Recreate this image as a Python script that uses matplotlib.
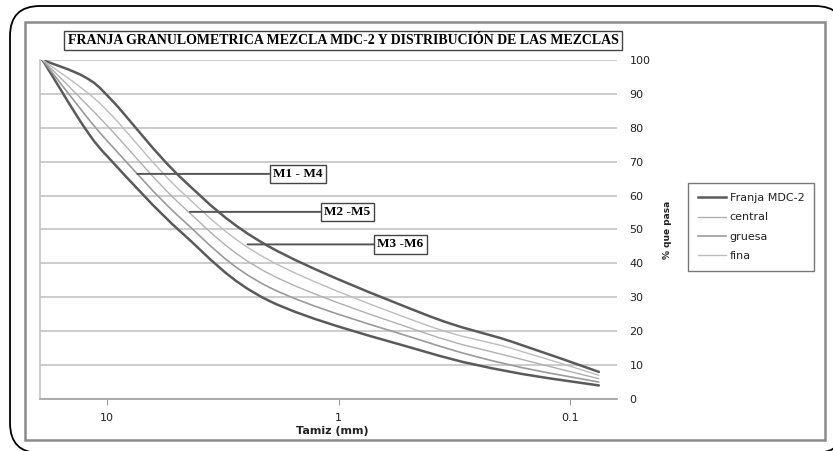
import matplotlib
matplotlib.use("Agg")
import numpy as np
import matplotlib.pyplot as plt
from matplotlib.patches import FancyBboxPatch, Rectangle, PathPatch
from matplotlib.path import Path
from matplotlib.lines import Line2D
from matplotlib.ticker import FixedLocator, FixedFormatter, NullLocator

# tamices (mm) y % que pasa
tamiz = [19, 12.5, 9.5, 4.75, 2.0, 0.425, 0.18, 0.075]
franja_sup = [100, 95, 88, 65, 45, 25, 17, 8]
franja_inf = [100, 80, 70, 49, 29, 14, 8, 4]
central = [100, 87.5, 79, 57, 37, 19.5, 12.5, 6]
fina = [100, 91, 83.5, 61, 41, 22, 15, 7]
gruesa = [100, 84, 74.5, 53, 33, 17, 10, 5]

x_ticks = [10, 1, 0.1]
x_ticklabels = ["10", "1", "0.1"]
y_ticks = [0, 10, 20, 30, 40, 50, 60, 70, 80, 90, 100]


def curva_suave(xs, ys):
    # linea suavizada como en Excel (bezier tipo catmull-rom, en x logaritmico)
    p = np.column_stack([np.log10(xs), ys])
    n = len(p)
    verts = [p[0]]
    codes = [Path.MOVETO]
    for i in range(n - 1):
        a = p[i - 1] if i > 0 else p[i]
        d = p[i + 2] if i + 2 < n else p[i + 1]
        c1 = p[i] + (p[i + 1] - a) / 6
        c2 = p[i + 1] - (d - p[i]) / 6
        verts += [c1, c2, p[i + 1]]
        codes += [Path.CURVE4] * 3
    verts = np.array(verts)
    verts[:, 0] = 10 ** verts[:, 0]
    return Path(verts, codes)


W, H = 833, 451
fig = plt.figure(figsize=(W / 100, H / 100), dpi=100)

# fondo en pixeles: marco redondeado y borde del area del grafico
bg = fig.add_axes([0, 0, 1, 1], zorder=-10)
bg.set_xlim(0, W)
bg.set_ylim(H, 0)
bg.axis("off")
bg.add_patch(FancyBboxPatch((10, 6), 835, 447,
                            boxstyle="round,pad=0,rounding_size=30",
                            fc="white", ec="black", lw=1.3))
bg.add_patch(Rectangle((25, 22), 800, 418, fc="white", ec="#8a8a8a", lw=1.8))

ax = fig.add_axes([40 / W, 1 - 399 / H, 577 / W, 339 / H])
ax.set_facecolor("none")

dark = "#5a5a5a"
series = [
    (franja_sup, dark, 1.8, "Franja MDC-2"),
    (franja_inf, dark, 1.8, None),
    (central, "#b0b0b0", 1.0, "central"),
    (gruesa, "#9a9a9a", 1.2, "gruesa"),
    (fina, "#bdbdbd", 1.0, "fina"),
]
handles = []
for vals, col, lw, lab in series:
    ax.add_patch(PathPatch(curva_suave(tamiz, vals), fill=False, ec=col, lw=lw,
                           capstyle="round", joinstyle="round"))
    if lab:
        handles.append(Line2D([], [], color=col, lw=lw, label=lab))

ax.set_xscale("log")
ax.set_xlim(19.5, 0.0626)
ax.set_ylim(0, 100)

ax.xaxis.set_major_locator(FixedLocator(x_ticks))
ax.xaxis.set_major_formatter(FixedFormatter(x_ticklabels))
ax.xaxis.set_minor_locator(NullLocator())
ax.tick_params(axis="x", direction="out", length=4, color="#999999",
               labelsize=8, pad=6, labelcolor="#222222")

ax.yaxis.tick_right()
ax.set_yticks(y_ticks)
ax.tick_params(axis="y", length=0, pad=9, labelsize=8, labelcolor="#222222")
ax.yaxis.grid(True, color="#c4c4c4", lw=1.2)
ax.set_axisbelow(True)

for s in ["top", "right"]:
    ax.spines[s].set_visible(False)
ax.spines["left"].set_color("#c4c4c4")
ax.spines["left"].set_linewidth(1.2)
ax.spines["bottom"].set_color("#a0a0a0")
ax.spines["bottom"].set_linewidth(1.2)

serif = ["Liberation Serif", "DejaVu Serif"]
box = dict(boxstyle="square,pad=0.25", fc="white", ec="#444444", lw=1.0)
marcas = [("M1 - M4", 7.4, 66.4, 1.5),
          ("M2 -M5", 4.39, 55.2, 0.915),
          ("M3 -M6", 2.47, 45.6, 0.54)]
for txt, x0, y0, xt in marcas:
    ax.annotate(txt, xy=(x0, y0), xytext=(xt, y0), ha="center", va="center",
                fontsize=9.5, fontweight="bold", family=serif, bbox=box,
                arrowprops=dict(arrowstyle="-", color="#555555", lw=1.4,
                                shrinkA=0, shrinkB=0))

fig.text(343 / W, 1 - 40.5 / H,
         "FRANJA GRANULOMETRICA MEZCLA MDC-2 Y DISTRIBUCIÓN DE LAS MEZCLAS",
         ha="center", va="center", fontsize=10, fontweight="bold", family=serif,
         bbox=dict(boxstyle="square,pad=0.25", fc="white", ec="#444444", lw=1.0))

fig.text(332 / W, 1 - 431 / H, "Tamiz (mm)", ha="center", va="center",
         fontsize=8, fontweight="bold", color="#222222")
fig.text(668 / W, 1 - 230 / H, "% que pasa", ha="center", va="center",
         rotation=90, fontsize=6.5, fontweight="bold", color="#222222")

leg = fig.legend(handles=handles, loc="upper left",
                 bbox_to_anchor=(688 / W, 1 - 183 / H),
                 fontsize=8, frameon=True, fancybox=False, edgecolor="#555555",
                 borderaxespad=0, borderpad=0.9, handlelength=2.5,
                 handletextpad=0.35, labelspacing=0.85)
leg.get_frame().set_linewidth(1.0)
for t in leg.get_texts():
    t.set_color("#222222")

fig.savefig("out.png", dpi=100)
